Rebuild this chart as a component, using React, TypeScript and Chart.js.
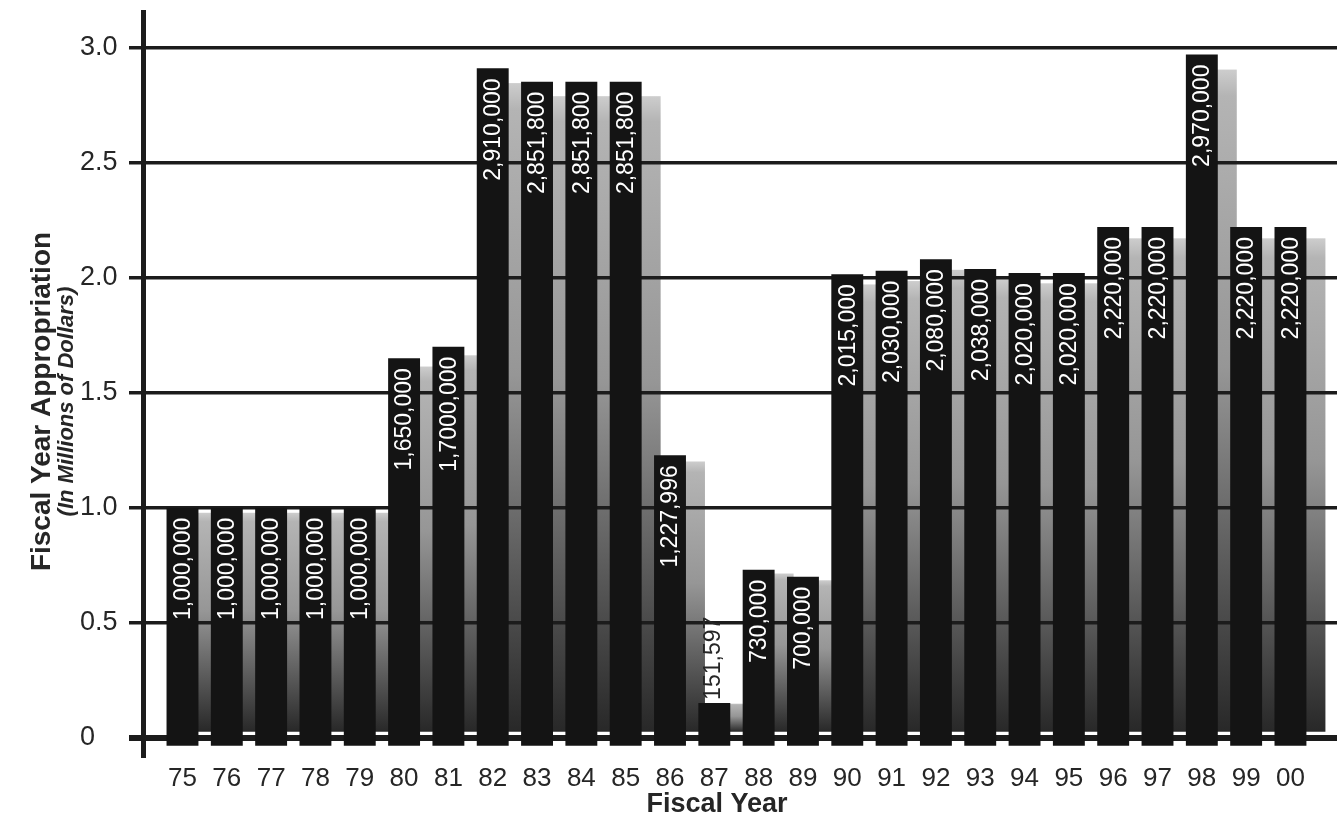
import { useEffect, useRef } from 'react';
import { Chart, registerables } from 'chart.js';

Chart.register(...registerables);

// ---- data ----
const fiscalYears = ['75', '76', '77', '78', '79', '80', '81', '82', '83', '84', '85', '86', '87', '88', '89', '90', '91', '92', '93', '94', '95', '96', '97', '98', '99', '00'];
// appropriation in millions of dollars
const appropriations = [1.0, 1.0, 1.0, 1.0, 1.0, 1.65, 1.7, 2.91, 2.8518, 2.8518, 2.8518, 1.227996, 0.151597, 0.73, 0.7, 2.015, 2.03, 2.08, 2.038, 2.02, 2.02, 2.22, 2.22, 2.97, 2.22, 2.22];
const valueLabels = ['1,000,000', '1,000,000', '1,000,000', '1,000,000', '1,000,000', '1,650,000', '1,7000,000', '2,910,000', '2,851,800', '2,851,800', '2,851,800', '1,227,996', '151,597', '730,000', '700,000', '2,015,000', '2,030,000', '2,080,000', '2,038,000', '2,020,000', '2,020,000', '2,220,000', '2,220,000', '2,970,000', '2,220,000', '2,220,000'];
const yTickValues = [0, 0.5, 1.0, 1.5, 2.0, 2.5, 3.0];
const yTickLabels = ['0', '0.5', '1.0', '1.5', '2.0', '2.5', '3.0'];
const yTitle = 'Fiscal Year Appropriation';
const ySubtitle = '(In Millions of Dollars)';
const xTitle = 'Fiscal Year';

const FONT = '"Liberation Sans", Arial, Helvetica, sans-serif';
const INK = '#1c1c1c';
const TEXT = '#262626';

const shadowPlugin = {
  id: 'barShadows',
  beforeDraw(chart: any) {
    const ctx = chart.ctx;
    const meta = chart.getDatasetMeta(0);
    const zero = chart.scales.y.getPixelForValue(0);
    ctx.save();
    meta.data.forEach((el: any) => {
      const { x, y, width } = el.getProps(['x', 'y', 'width'], true);
      const left = x - width / 2 + 19;
      const top = y + (zero - y) * 0.022;
      const bottom = zero - 6;
      if (bottom <= top) return;
      const g = ctx.createLinearGradient(0, top, 0, bottom);
      g.addColorStop(0, '#cdcdcd');
      g.addColorStop(0.04, '#b4b4b4');
      g.addColorStop(0.45, '#969696');
      g.addColorStop(1, '#282828');
      ctx.fillStyle = g;
      ctx.fillRect(left, top, width, bottom - top);
    });
    ctx.restore();
  },
};

const labelPlugin = {
  id: 'barLabels',
  afterDatasetsDraw(chart: any) {
    const ctx = chart.ctx;
    const meta = chart.getDatasetMeta(0);
    ctx.save();
    ctx.font = `23px ${FONT}`;
    ctx.textBaseline = 'middle';
    meta.data.forEach((el: any, i: number) => {
      const { x, y, base } = el.getProps(['x', 'y', 'base'], true);
      const text = valueLabels[i];
      const w = ctx.measureText(text).width;
      const pad = 10;
      ctx.save();
      if (w + pad * 2 > base - y) {
        ctx.translate(x - 2, y - 3);
        ctx.rotate(-Math.PI / 2);
        ctx.textAlign = 'left';
        ctx.fillStyle = TEXT;
        ctx.fillText(text, 0, 1);
      } else {
        ctx.translate(x, y + pad);
        ctx.rotate(-Math.PI / 2);
        ctx.textAlign = 'right';
        ctx.fillStyle = '#ffffff';
        ctx.fillText(text, 0, 1);
      }
      ctx.restore();
    });
    ctx.restore();
  },
};

const titlePlugin = {
  id: 'axisTitles',
  afterDraw(chart: any) {
    const ctx = chart.ctx;
    const area = chart.chartArea;
    const cy = (area.top + area.bottom) / 2 + 18;
    ctx.save();
    ctx.fillStyle = TEXT;
    ctx.textAlign = 'center';
    ctx.textBaseline = 'alphabetic';
    ctx.save();
    ctx.translate(50, cy);
    ctx.rotate(-Math.PI / 2);
    ctx.font = `bold 28px ${FONT}`;
    ctx.fillText(yTitle, 0, 0);
    ctx.restore();
    ctx.save();
    ctx.translate(73, cy);
    ctx.rotate(-Math.PI / 2);
    ctx.font = `italic bold 22px ${FONT}`;
    ctx.fillText(ySubtitle, 0, 0);
    ctx.restore();
    ctx.font = `bold 27px ${FONT}`;
    ctx.textBaseline = 'middle';
    ctx.fillText(xTitle, 717, 805);
    ctx.restore();
  },
};

export default function App() {
  const canvasRef = useRef<HTMLCanvasElement | null>(null);

  useEffect(() => {
    const canvas = canvasRef.current;
    if (!canvas) return;
    const chart = new Chart(canvas, {
      type: 'bar',
      data: {
        datasets: [
          {
            data: appropriations.map((v, i) => ({ x: i, y: v })),
            backgroundColor: '#141414',
            borderWidth: 0,
            base: -0.035,
            barPercentage: 0.72,
            categoryPercentage: 1,
          } as any,
        ],
      },
      options: {
        responsive: false,
        animation: false,
        layout: { padding: { top: 12, left: 80, right: 0, bottom: 0 } },
        plugins: {
          legend: { display: false },
          tooltip: { enabled: false },
        },
        scales: {
          x: {
            type: 'linear',
            min: -0.891,
            max: 26.05,
            offset: false,
            grid: { display: false },
            border: { display: false },
            ticks: {
              autoSkip: false,
              maxRotation: 0,
              padding: 0,
              color: TEXT,
              font: { family: FONT, size: 26 },
              callback: (v: any) => fiscalYears[Math.round(Number(v))] ?? '',
            },
            afterBuildTicks: (scale: any) => {
              scale.ticks = fiscalYears.map((_, i) => ({ value: i }));
            },
            afterFit: (scale: any) => {
              scale.height = 64;
              scale.paddingLeft = 0;
              scale.paddingRight = 0;
            },
          },
          y: {
            type: 'linear',
            min: -0.075,
            max: 3.155,
            grid: {
              color: INK,
              lineWidth: (c: any) => (c.tick && c.tick.value === 0 ? 6 : 3.5),
              drawTicks: true,
              tickLength: 14,
            },
            border: { display: true, width: 5, color: INK },
            ticks: {
              crossAlign: 'far',
              color: TEXT,
              font: { family: FONT, size: 27 },
              callback: (v: any) => {
                const idx = yTickValues.indexOf(Number(v));
                return idx >= 0 ? yTickLabels[idx] : '';
              },
            },
            afterBuildTicks: (scale: any) => {
              scale.ticks = yTickValues.map((v) => ({ value: v }));
            },
            afterFit: (scale: any) => {
              scale.width = 63;
              scale.paddingTop = 0;
              scale.paddingBottom = 0;
            },
          },
        },
      } as any,
      plugins: [shadowPlugin, labelPlugin, titlePlugin],
    });
    return () => chart.destroy();
  }, []);

  return (
    <div style={{ position: 'absolute', left: 0, top: 0, width: 1337, height: 819, background: '#ffffff' }}>
      <canvas ref={canvasRef} width={1337} height={819} style={{ display: 'block' }} />
    </div>
  );
}
